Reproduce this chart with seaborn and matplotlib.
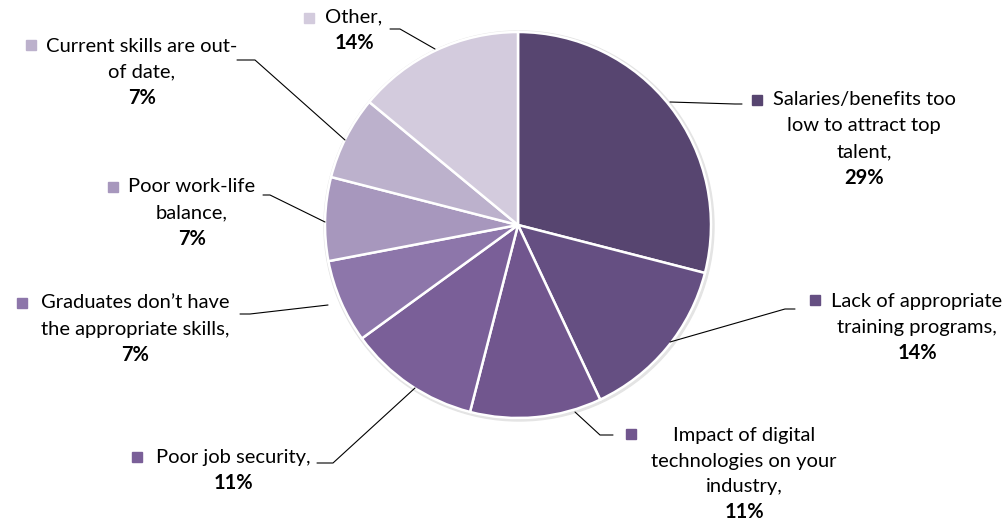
import matplotlib
matplotlib.use("Agg")
import matplotlib.pyplot as plt
import seaborn as sns

# ---- data ----
categories = [
    "Salaries/benefits too low to attract top talent",
    "Lack of appropriate training programs",
    "Impact of digital technologies on your industry",
    "Poor job security",
    "Graduates don't have the appropriate skills",
    "Poor work-life balance",
    "Current skills are out-of date",
    "Other",
]
values = [29, 14, 11, 11, 7, 7, 7, 14]
pct_labels = ["29%", "14%", "11%", "11%", "7%", "7%", "7%", "14%"]
label_lines = [
    ["Salaries/benefits too", "low to attract top", "talent,"],
    ["Lack of appropriate", "training programs,"],
    ["Impact of digital", "technologies on your", "industry,"],
    ["Poor job security,"],
    ["Graduates don\u2019t have", "the appropriate skills,"],
    ["Poor work-life", "balance,"],
    ["Current skills are out-", "of date,"],
    ["Other,"],
]
hex_colors = ["#574570", "#654f82", "#71568e", "#7a5f98",
              "#8d76aa", "#a797bd", "#bcb1cc", "#d3cbdd"]

# ---- layout (pixel coords, y from top) ----
W, H = 1008, 521
# (square x, square y, text center x, first line y, line step)
label_pos = [
    (757, 100, 864, 100, 26),
    (815, 300, 917, 301, 26),
    (631, 434, 744, 436, 25.3),
    (137, 457, 233, 457, 26),
    (22, 303, 135, 303, 26),
    (113, 187, 192, 187, 26),
    (31, 45, 142, 46, 26),
    (309, 18, 354, 17, 26),
]
leaders = [
    [(670, 102), (735, 104), (742, 104)],
    [(670, 342), (785, 309), (795, 309)],
    [(575, 412), (600, 435), (613, 435)],
    [(415, 388), (333, 463), (317, 463)],
    [(328, 305), (250, 314), (240, 314)],
    [(325, 222), (270, 195), (263, 195)],
    [(345, 140), (255, 60), (237, 60)],
    [(435, 49), (400, 29), (390, 29)],
]

sns.set_theme(style="white")
plt.rcParams["font.family"] = ["Lato", "DejaVu Sans"]
palette = sns.color_palette(hex_colors)

fig = plt.figure(figsize=(W / 100, H / 100), dpi=100)
ax = fig.add_axes([0, 0, 1, 1])

def Y(y):
    return H - y

cx, cy, r = 518, 225, 193
# soft outline / shadow
shadow = plt.Circle((cx + 1, Y(cy) - 1), r + 2, color="#e4e4e4", zorder=0)
ax.add_patch(shadow)
ax.pie(values, colors=palette, startangle=90, counterclock=False,
       center=(cx, Y(cy)), radius=r,
       wedgeprops=dict(edgecolor="white", linewidth=1.8))

fs = 14.5
for i, (sx, sy, tx, ty, ls) in enumerate(label_pos):
    ax.plot([sx], [Y(sy)], marker="s", markersize=7, color=palette[i],
            linestyle="none", zorder=5)
    lines = label_lines[i]
    for j, line in enumerate(lines):
        ax.text(tx, Y(ty + j * ls), line, ha="center", va="center",
                fontsize=fs, color="black")
    ax.text(tx, Y(ty + len(lines) * ls), pct_labels[i], ha="center",
            va="center", fontsize=fs, fontweight="bold", color="black")
    pts = leaders[i]
    ax.plot([p[0] for p in pts], [Y(p[1]) for p in pts], color="black",
            linewidth=0.8, zorder=1)

ax.set_xlim(0, W)
ax.set_ylim(0, H)
ax.set_aspect("equal")
ax.axis("off")
fig.savefig("out.png", dpi=100, facecolor="white")
